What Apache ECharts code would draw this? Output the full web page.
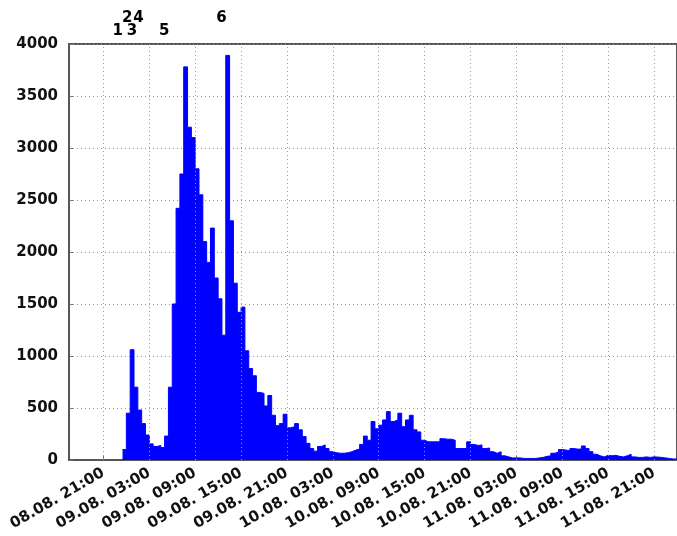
<!DOCTYPE html>
<html>
<head>
<meta charset="utf-8">
<script src="https://cdn.jsdelivr.net/npm/echarts@6/dist/echarts.min.js"></script>
<style>
  html, body { margin: 0; padding: 0; background: #fff; }
  #chart { width: 677px; height: 536px; }
</style>
</head>
<body>
<div id="chart"></div>
<script>
// x values are hours after 08.08. 21:00
const tickHours = [0, 6, 12, 18, 24, 30, 36, 42, 48, 54, 60, 66, 72]
const tickLabels = ['08.08. 21:00', '09.08. 03:00', '09.08. 09:00', '09.08. 15:00', '09.08. 21:00',
  '10.08. 03:00', '10.08. 09:00', '10.08. 15:00', '10.08. 21:00', '11.08. 03:00',
  '11.08. 09:00', '11.08. 15:00', '11.08. 21:00']

// histogram, half-hour bins, first bin starts 08.08. 23:30
const firstBinHour = 2.5
const binHours = 0.5
const counts = [
  100, 450, 1060, 700, 480, 350, 240, 155, 130, 140, 120,
  230, 700, 1500, 2420, 2750, 3780, 3200, 3100, 2800, 2550,
  2100, 1900, 2230, 1750, 1550, 1200, 3890, 2300, 1700, 1420,
  1470, 1050, 880, 810, 650, 640, 520, 620, 430, 330,
  350, 440, 310, 320, 350, 290, 225, 160, 110, 85,
  130, 145, 110, 80, 70, 65, 65, 70, 80, 95,
  105, 150, 230, 190, 370, 300, 335, 385, 465, 370,
  385, 450, 320, 385, 430, 290, 270, 190, 175, 175,
  175, 175, 205, 200, 200, 190, 110, 110, 110, 175,
  150, 140, 145, 110, 115, 80, 65, 80, 40, 30,
  20, 20, 20, 15, 15, 15, 15, 20, 25, 35,
  40, 65, 75, 100, 95, 90, 110, 105, 105, 135,
  110, 80, 55, 40, 30, 45, 40, 45, 35, 30,
  40, 55, 30, 25, 25, 30, 25, 30, 28, 25,
  20, 15, 10, 10
]

// event markers above the plot
const eventLabels = ['1', '2', '3', '4', '5', '6']
const eventHours = [1.87, 3.1, 3.74, 4.58, 7.94, 15.45]
const eventLevels = [4125, 4250, 4125, 4250, 4125, 4250]

const histData = counts.map((v, i) => [firstBinHour + i * binHours, v])
histData.push([firstBinHour + counts.length * binHours, 0])

const eventData = eventLabels.map((t, i) => ({ value: [eventHours[i], eventLevels[i]], name: t }))

const labelFont = {
  fontFamily: 'DejaVu Sans',
  fontWeight: 'bold',
  fontSize: 15,
  color: '#111'
}
const gridDots = { color: '#999', type: [1, 3], width: 1 }

const chart = echarts.init(document.getElementById('chart'))
chart.setOption({
  animation: false,
  backgroundColor: '#fff',
  grid: {
    left: 69,
    right: -8,
    top: 44,
    bottom: 76,
    show: true,
    borderColor: '#555',
    borderWidth: 2
  },
  xAxis: {
    type: 'value',
    min: -4.5,
    max: 75,
    axisLine: { onZero: false, lineStyle: { color: '#555', width: 2 } },
    axisTick: {
      show: true,
      inside: true,
      length: 4,
      customValues: tickHours,
      lineStyle: { color: '#777' }
    },
    axisLabel: Object.assign({
      rotate: 30,
      margin: 12,
      customValues: tickHours,
      formatter: v => tickLabels[Math.round(v / 6)]
    }, labelFont),
    splitLine: { show: false }
  },
  yAxis: {
    type: 'value',
    min: 0,
    max: 4000,
    interval: 500,
    axisLine: { show: true, onZero: false, lineStyle: { color: '#555', width: 2 } },
    axisTick: { show: true, inside: true, length: 4, lineStyle: { color: '#777' } },
    axisLabel: Object.assign({ margin: 11, formatter: v => String(v) }, labelFont),
    splitLine: { show: true, lineStyle: gridDots }
  },
  series: [{
    name: 'count',
    type: 'line',
    step: 'end',
    symbol: 'none',
    data: histData,
    lineStyle: { color: '#0000ff', width: 1 },
    areaStyle: { color: '#0000ff', opacity: 1 },
    z: 3
  }, {
    name: 'events',
    type: 'scatter',
    clip: false,
    symbolSize: 0,
    z: 1,
    itemStyle: { color: '#000', opacity: 1 },
    data: eventData,
    label: Object.assign({
      show: true,
      position: 'inside',
      textBorderWidth: 0,
      opacity: 1,
      formatter: p => p.name
    }, labelFont, { color: '#000' }),
    markLine: {
      silent: true,
      symbol: 'none',
      label: { show: false },
      lineStyle: gridDots,
      data: tickHours.map(h => ({ xAxis: h }))
    }
  }]
})
</script>
</body>
</html>
